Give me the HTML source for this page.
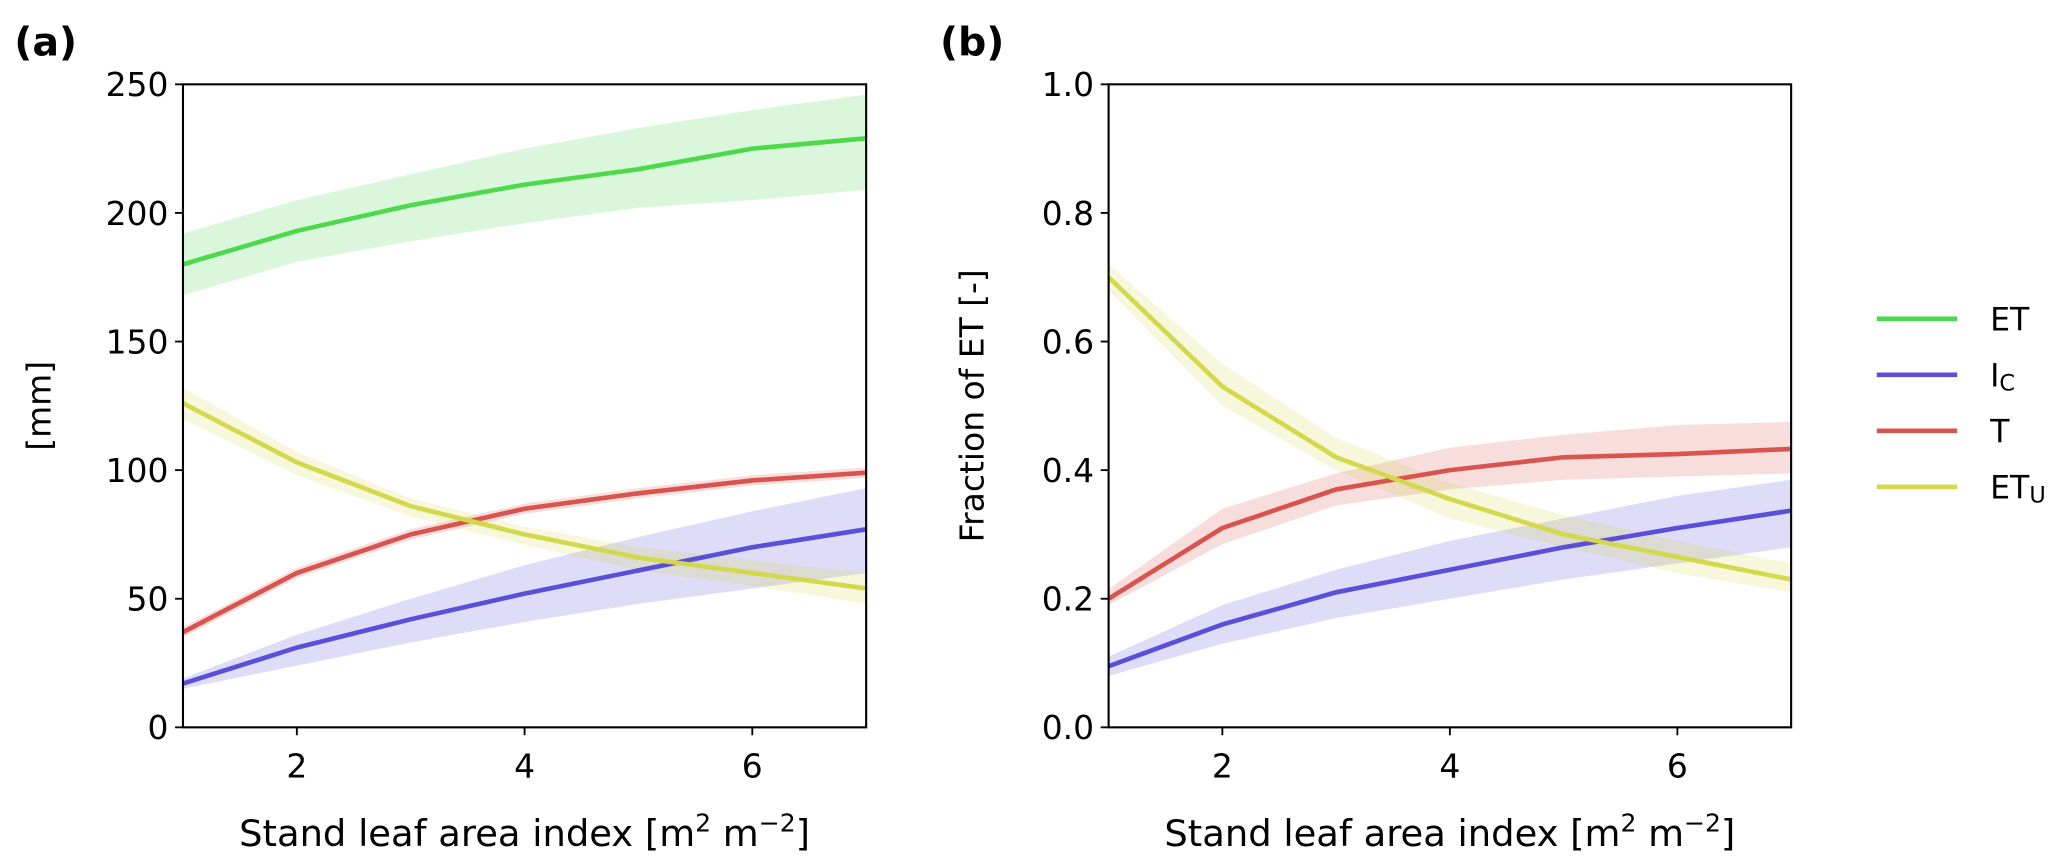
<!DOCTYPE html>
<html><head><meta charset="utf-8"><style>
body{margin:0;background:#fff}
svg{display:block;font-family:"DejaVu Sans","Liberation Sans",sans-serif}
</style></head><body>
<svg id="fig" width="2067" height="867" viewBox="0 0 1568 658" xmlns="http://www.w3.org/2000/svg"></svg>
<script>
const xs=[1,2,3,4,5,6,7];
const etA=[180,193,203,211,217,225,229];
const etALo=[168,181,189,196,202,205,209];
const etAHi=[192,205,215,225,233,240,246];
const tA=[37,60,75,85,91,96,99];
const tALo=[35,58,73,83,89,94,97];
const tAHi=[39,62,77,87,93,98,101];
const icA=[17,31,42,52,61,70,77];
const icALo=[15,24,33,41,48,54,60];
const icAHi=[19,36,50,63,74,84,93];
const etuA=[126,103,86,75,66,60,54];
const etuALo=[120,98,82,71,61,55,48];
const etuAHi=[132,107,89,78,70,65,60];
const etuB=[0.70,0.53,0.42,0.355,0.30,0.265,0.23];
const etuBLo=[0.68,0.50,0.40,0.325,0.28,0.24,0.21];
const etuBHi=[0.72,0.565,0.45,0.38,0.33,0.29,0.255];
const tB=[0.20,0.31,0.37,0.40,0.42,0.425,0.433];
const tBLo=[0.19,0.285,0.345,0.37,0.385,0.39,0.395];
const tBHi=[0.215,0.34,0.395,0.435,0.455,0.47,0.475];
const icB=[0.095,0.16,0.21,0.245,0.28,0.31,0.337];
const icBLo=[0.08,0.13,0.17,0.20,0.23,0.255,0.28];
const icBHi=[0.11,0.19,0.245,0.29,0.325,0.36,0.385];
const ticksA=[0,50,100,150,200,250];
const ticksB=[0.0,0.2,0.4,0.6,0.8,1.0];
const xticks=[2,4,6];
const C={et:'#4cd94c',ic:'#5a4fd9',t:'#d9534f',etu:'#d3d94a'};
const svg=document.getElementById('fig');
const NS='http://www.w3.org/2000/svg';
function el(t,a,p){const e=document.createElementNS(NS,t);for(const k in a)e.setAttribute(k,a[k]);(p||svg).appendChild(e);return e;}
function panel(name,x0,x1,ymax,ticks,fmt,series,ylab,letter,lx){
  const y0=552,y1=64;
  const X=v=>x0+(v-1)/6*(x1-x0);
  const Y=v=>y0-v/ymax*(y0-y1);
  const g=el('g',{});
  
  
  series.forEach(s=>{
    let d='M'+xs.map((x,i)=>X(x)+','+Y(s.hi[i])).join('L')+'L'+xs.map((x,i)=>X(x)+','+Y(s.lo[i])).reverse().join('L')+'Z';
    const b=el('path',{d:d,fill:s.c,'fill-opacity':0.2,stroke:'none'},g);
    
    
  });
  series.forEach(s=>{
    const l=el('polyline',{points:xs.map((x,i)=>X(x)+','+Y(s.v[i])).join(' '),fill:'none',stroke:s.c,'stroke-width':3.5},g);
    
    
  });
  const r=el('rect',{x:x0,y:y1,width:x1-x0,height:y0-y1,fill:'none',stroke:'#000','stroke-width':1.6},g);
  
  
  ticks.forEach(t=>{
    el('line',{x1:x0-6,x2:x0,y1:Y(t),y2:Y(t),stroke:'#000','stroke-width':1.4},g);
    const tx=el('text',{x:x0-11,y:Y(t)+9,'text-anchor':'end','font-size':25},g);
    tx.textContent=fmt(t);
    
    
  });
  xticks.forEach(t=>{
    el('line',{x1:X(t),x2:X(t),y1:y0,y2:y0+6,stroke:'#000','stroke-width':1.4},g);
    const tx=el('text',{x:X(t),y:y0+38,'text-anchor':'middle','font-size':25},g);
    tx.textContent=t;
    
    
  });
  const xl=el('text',{x:(x0+x1)/2,y:642,'text-anchor':'middle','font-size':28},g);
  xl.innerHTML='Stand leaf area index [m<tspan dy="-11" font-size="19">2</tspan><tspan dy="11"> m</tspan><tspan dy="-11" font-size="19">−2</tspan><tspan dy="11">]</tspan>';
  
  
  const yl=el('text',{x:0,y:0,'text-anchor':'middle','font-size':25,transform:`translate(${lx},308) rotate(-90)`},g);
  yl.textContent=ylab;
  
  
  const pl=el('text',{x:x0-128,y:42,'font-size':30,'font-weight':'bold'},g);
  pl.textContent=letter;
  
  
}
panel('panel-a',138.5,657,250,ticksA,t=>t,[
 {n:'et',c:C.et,v:etA,lo:etALo,hi:etAHi},
 {n:'ic',c:C.ic,v:icA,lo:icALo,hi:icAHi},
 {n:'t',c:C.t,v:tA,lo:tALo,hi:tAHi},
 {n:'etu',c:C.etu,v:etuA,lo:etuALo,hi:etuAHi}],'[mm]','(a)',38);
panel('panel-b',841,1359,1,ticksB,t=>t.toFixed(1),[
 {n:'ic',c:C.ic,v:icB,lo:icBLo,hi:icBHi},
 {n:'t',c:C.t,v:tB,lo:tBLo,hi:tBHi},
 {n:'etu',c:C.etu,v:etuB,lo:etuBLo,hi:etuBHi}],'Fraction of ET [-]','(b)',746);
const leg=el('g',{});


[['ET','',C.et,242],['I','C',C.ic,284.5],['T','',C.t,327],['ET','U',C.etu,369.5]].forEach(e=>{
  const l=el('line',{x1:1424,x2:1485,y1:e[3],y2:e[3],stroke:e[2],'stroke-width':3.5},leg);
  
  
  const t=el('text',{x:1510,y:e[3]+9,'font-size':24},leg);
  t.innerHTML=e[0]+(e[1]?'<tspan font-size="17" dy="3">'+e[1]+'</tspan>':'');
  
  
});
</script>
</body></html>
